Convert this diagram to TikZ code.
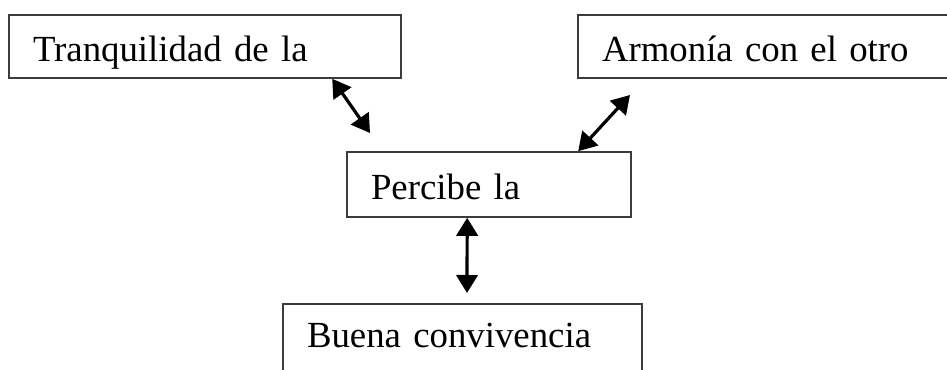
\documentclass[tikz,border=0pt]{standalone}
\usepackage{fontspec}
\setmainfont{Liberation Serif}
\usetikzlibrary{arrows.meta,calc}

\tikzset{every picture/.style={line width=0.75pt}}
\tikzset{
  boxnode/.style={draw={rgb,255:red,60;green,60;blue,60},line width=1.2pt,rectangle,inner xsep=18pt,inner ysep=0pt,
    align=left,text height=22.5pt,text depth=0pt,font=\fontsize{27.6pt}{33pt}\selectfont},
  twoway/.style={line width=2.4pt,{Triangle[length=13.5pt,width=16pt]}-{Triangle[length=13.5pt,width=16pt]}}
}

\begin{document}
\begin{tikzpicture}[x=0.75pt,y=0.75pt,yscale=-1,xscale=1]
\clip (0,0) rectangle (947,370);

%Shape: Rectangle [tranquilidad]
\node [boxnode,text width=258pt,minimum height=47.25pt] (tranq) at (205,46.5) {Tranquilidad de la};
%Shape: Rectangle [armonia]
\node [boxnode,text width=250.5pt,minimum height=47.25pt] (armon) at (769,46.5) {Armonía con el otro};
%Shape: Rectangle [percibe]
\node [boxnode,text width=177pt,minimum height=48.75pt] (perc) at (489,184.5) {Percibe la};
%Shape: Rectangle [convivencia]
\node [boxnode,text width=233.25pt,text depth=15pt,minimum height=58.5pt] (conviv) at (462.5,343) {Buena convivencia};

% free ends
\coordinate (endA) at (370,133);
\coordinate (endB) at (630,95);
\coordinate (endC) at (467,293);

%Double Arrows
\draw [twoway] ($(tranq.south west)+(324,0)$) -- (endA);
\draw [twoway] ($(perc.north west)+(232,0)$) -- (endB);
\draw [twoway] ($(perc.south west)+(121,0)$) -- (endC);

\end{tikzpicture}
\end{document}
